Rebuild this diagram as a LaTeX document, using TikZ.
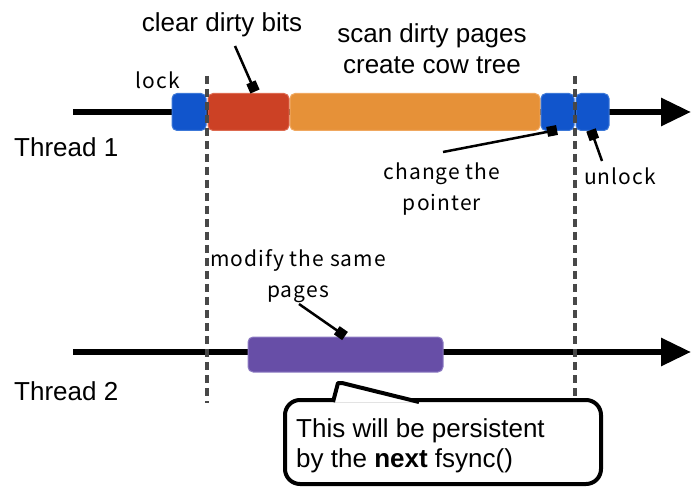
\documentclass[tikz,border=0pt]{standalone}
\usepackage{fontspec}
\setmainfont{Liberation Sans}
\newfontfamily\gothic{Noto Sans CJK JP}[LetterSpace=5]
\usetikzlibrary{arrows.meta}
\definecolor{lockblue}{HTML}{1155CC}
\definecolor{lockedge}{HTML}{3C78D8}
\definecolor{clearred}{HTML}{CC4125}
\definecolor{clearedge}{HTML}{DD6A50}
\definecolor{scanorange}{HTML}{E69138}
\definecolor{scanedge}{HTML}{F0A860}
\definecolor{modpurple}{HTML}{674EA7}
\definecolor{modedge}{HTML}{8E7CC3}
\definecolor{guide}{HTML}{484848}
\tikzset{
  thread/.style={line width=6pt, -{Triangle[length=30pt,width=27pt]}},
  phase/.style={rectangle, rounded corners=5pt, line width=1pt, minimum height=37pt, inner sep=0pt},
  guideline/.style={guide, line width=3.2pt, dash pattern=on 8pt off 5pt},
  pointer/.style={line width=2.5pt, -{Square[length=10pt,width=10pt]}},
  arial/.style={font=\fontsize{26}{31}\selectfont},
  goth/.style={font=\gothic\fontsize{21}{31}\selectfont},
  notebox/.style={rectangle, rounded corners=15pt, line width=4pt, draw=black, fill=white,
    minimum width=316pt, minimum height=84pt, inner sep=0pt},
  notetext/.style={inner sep=0pt, align=left, font=\fontsize{26}{30}\selectfont}
}
\begin{document}
\begin{tikzpicture}[x=1pt,y=-1pt]
\useasboundingbox (0,0) rectangle (691,489);

% timelines
\coordinate (t1a) at (73,112);
\coordinate (t1b) at (691,112);
\coordinate (t2a) at (73,352);
\coordinate (t2b) at (691,352);
\draw[thread] (t1a) -- (t1b);
\draw[thread] (t2a) -- (t2b);

% thread 1 phases
\node[phase, fill=lockblue, draw=lockedge, minimum width=34pt] (lock) at (189,112) {};
\node[phase, fill=clearred, draw=clearedge, minimum width=81pt] (clear) at (248.5,112) {};
\node[phase, fill=scanorange, draw=scanedge, minimum width=250pt] (scan) at (415,112) {};
\node[phase, fill=lockblue, draw=lockedge, minimum width=33pt] (swap) at (557.5,112) {};
\node[phase, fill=lockblue, draw=lockedge, minimum width=33pt] (unlock) at (592.5,112) {};

% thread 2 phase
\node[phase, fill=modpurple, draw=modedge, minimum width=195pt, minimum height=35pt] (modify) at (345.5,354.5) {};

% thread labels
\node[arial, anchor=base west, inner sep=0pt] (th1) at (14,157) {Thread 1};
\node[arial, anchor=base west, inner sep=0pt] (th2) at (14,400) {Thread 2};

% phase labels
\node[goth, anchor=base, inner sep=0pt] (llock) at (158,89) {lock};
\node[arial, anchor=base, inner sep=0pt] (lclear) at (222,32) {clear dirty bits};
\node[arial, align=center, inner sep=0pt] (lscan) at (432,49) {scan dirty pages\\create cow tree};
\node[goth, align=center, inner sep=0pt] (lswap) at (442,189) {change the\\pointer};
\node[goth, anchor=base, inner sep=0pt] (lunlock) at (620,185) {unlock};
\node[goth, align=center, inner sep=0pt] (lmod) at (298,276) {modify the same\\pages};

% pointers
\coordinate (p1a) at (235,46);  \coordinate (p1b) at (255,91.5);
\coordinate (p2a) at (443,152); \coordinate (p2b) at (557,130);
\coordinate (p3a) at (602,161); \coordinate (p3b) at (591,130);
\coordinate (p4a) at (299,304); \coordinate (p4b) at (345,336);
\draw[pointer] (p1a) -- (p1b);
\draw[pointer] (p2a) -- (p2b);
\draw[pointer] (p3a) -- (p3b);
\draw[pointer] (p4a) -- (p4b);

% critical section boundaries
\coordinate (g1a) at (207,76); \coordinate (g1b) at (207,403);
\coordinate (g2a) at (575,76); \coordinate (g2b) at (575,400);
\draw[guideline] (g1a) -- (g1b);
\draw[guideline] (g2a) -- (g2b);

% callout
\node[notebox] (note) at (443,442) {};
\coordinate (ca) at (333,402);
\coordinate (cb) at (338,383);
\coordinate (cc) at (342,383);
\coordinate (cd) at (419,402);
\fill[white] (ca) -- (cb) -- (cc) -- (cd) -- cycle;
\draw[line width=4pt, line join=round] (ca) -- (cb) -- (cc) -- (cd);
\node[notetext, anchor=west] (notetxt) at ([xshift=13pt]note.west |- 0,446) {This will be persistent\\by the \textbf{next} fsync()};
\end{tikzpicture}
\end{document}
